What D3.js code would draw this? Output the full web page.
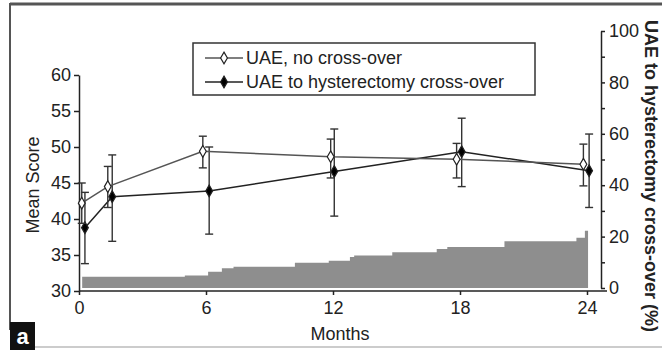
<!DOCTYPE html>
<html>
<head>
<meta charset="utf-8">
<script src="https://cdn.jsdelivr.net/npm/d3@7"></script>
<style>
  body { margin: 0; background: #fff; }
  text { font-family: Arial, "Liberation Sans", sans-serif; fill: #222; }
</style>
</head>
<body>
<svg id="chart" width="662" height="350"></svg>
<script>
// series (months, mean score, error bar ends)
var openMonths = [0.13, 1.36, 5.85, 11.89, 17.84, 23.83];
var openMean   = [42.2, 44.5, 49.4, 48.65, 48.3, 47.6];
var openHi     = [45.0, 47.3, 51.5, 51.1, 50.5, 50.4];
var openLo     = [39.4, 41.6, 47.1, 45.7, 45.7, 44.6];

var crossMonths = [0.28, 1.57, 6.15, 12.06, 18.08, 24.1];
var crossMean   = [38.8, 43.1, 43.9, 46.6, 49.35, 46.7];
var crossHi     = [43.7, 48.9, 50.0, 52.5, 54.0, 51.8];
var crossLo     = [33.8, 36.9, 37.9, 40.4, 44.5, 41.6];

// cumulative cross-over (%), step starts in months
var stepMonths = [0.15, 5.0, 6.1, 6.75, 7.3, 10.2, 11.8, 12.8, 13.0, 14.8, 16.9, 17.4, 20.1, 23.5, 23.9, 24.05];
var crossPct   = [4.4, 4.9, 6.3, 7.7, 8.3, 9.8, 10.6, 12.1, 12.6, 13.9, 15.2, 16.0, 18.2, 19.6, 22.3, 22.3];

var xTicks = [0, 6, 12, 18, 24];
var yTicks = [30, 35, 40, 45, 50, 55, 60];
var pctTicks = [0, 20, 40, 60, 80, 100];
var legendLabels = ['UAE, no cross-over', 'UAE to hysterectomy cross-over'];

var svg = d3.select('#chart');

var x = d3.scaleLinear().domain([0, 24]).range([79, 587]);
var y = d3.scaleLinear().domain([30, 60]).range([291, 75]);
var yPct = d3.scaleLinear().domain([0, 100]).range([288, 31]);

// frame
svg.append('line').attr('x1', 10).attr('x2', 662).attr('y1', 4).attr('y2', 4)
   .attr('stroke', '#555').attr('stroke-width', 3);
svg.append('line').attr('x1', 10).attr('x2', 10).attr('y1', 3).attr('y2', 330)
   .attr('stroke', '#555').attr('stroke-width', 2);
svg.append('line').attr('x1', 34).attr('x2', 662).attr('y1', 347).attr('y2', 347)
   .attr('stroke', '#ccc').attr('stroke-width', 2);

// cross-over area
var stepData = stepMonths.map(function(m, i){ return {m: m, v: crossPct[i]}; });
var area = d3.area()
    .curve(d3.curveStepAfter)
    .x(function(d){ return x(d.m); })
    .y0(yPct(0))
    .y1(function(d){ return yPct(d.v); });
svg.append('path').datum(stepData)
   .attr('d', area)
   .attr('fill', '#8e8e8e');

// axes
function styleAxis(g){
  g.select('.domain').attr('stroke', '#222').attr('stroke-width', 1.5);
  g.selectAll('.tick line').attr('stroke', '#222').attr('stroke-width', 1.5);
  g.selectAll('.tick text').style('font-size', '18px').attr('fill', '#222');
}

var gx = svg.append('g').attr('transform', 'translate(0,291)')
    .call(d3.axisBottom(x).tickValues(xTicks).tickSize(4).tickSizeOuter(0).tickPadding(6));
styleAxis(gx);
gx.select('.domain').attr('d', 'M' + x(0) + ',0H607');

var gy = svg.append('g').attr('transform', 'translate(79,0)')
    .call(d3.axisLeft(y).tickValues(yTicks).tickSize(5).tickSizeOuter(0).tickPadding(3));
styleAxis(gy);

var gr = svg.append('g').attr('transform', 'translate(601,0)')
    .call(d3.axisRight(yPct).tickValues(d3.range(0, 101, 10)).tickSize(4)
            .tickSizeOuter(0).tickPadding(4)
            .tickFormat(function(d){ return pctTicks.indexOf(d) >= 0 ? d : ''; }));
styleAxis(gr);

// axis titles
svg.append('text').attr('transform', 'translate(39,185) rotate(-90)')
   .attr('text-anchor', 'middle').style('font-size', '18px').text('Mean Score');
svg.append('text').attr('x', 340).attr('y', 340)
   .attr('text-anchor', 'middle').style('font-size', '18px').text('Months');
svg.append('text').attr('transform', 'translate(645,176) rotate(90)')
   .attr('text-anchor', 'middle').style('font-size', '18px').style('font-weight', 'bold')
   .text('UAE to hysterectomy cross-over (%)');

// series
var diamond = d3.symbol().type(d3.symbolDiamond).size(40);

function plotSeries(months, mean, hi, lo, lineColor, fill){
  var pts = months.map(function(m, i){ return {m: m, v: mean[i], hi: hi[i], lo: lo[i]}; });
  var g = svg.append('g');

  var bars = g.selectAll('g.bar').data(pts).enter().append('g')
      .attr('stroke', '#333').attr('stroke-width', 1.4);
  bars.append('line')
      .attr('x1', function(d){ return x(d.m); }).attr('x2', function(d){ return x(d.m); })
      .attr('y1', function(d){ return y(d.hi); }).attr('y2', function(d){ return y(d.lo); });
  bars.append('line')
      .attr('x1', function(d){ return x(d.m) - 4; }).attr('x2', function(d){ return x(d.m) + 4; })
      .attr('y1', function(d){ return y(d.hi); }).attr('y2', function(d){ return y(d.hi); });
  bars.append('line')
      .attr('x1', function(d){ return x(d.m) - 4; }).attr('x2', function(d){ return x(d.m) + 4; })
      .attr('y1', function(d){ return y(d.lo); }).attr('y2', function(d){ return y(d.lo); });

  g.append('path').datum(pts)
   .attr('d', d3.line().x(function(d){ return x(d.m); }).y(function(d){ return y(d.v); }))
   .attr('fill', 'none').attr('stroke', lineColor).attr('stroke-width', 1.5);

  g.selectAll('path.pt').data(pts).enter().append('path')
   .attr('class', 'pt')
   .attr('d', diamond)
   .attr('transform', function(d){ return 'translate(' + x(d.m) + ',' + y(d.v) + ')'; })
   .attr('fill', fill).attr('stroke', '#222').attr('stroke-width', 1.2);
}

plotSeries(crossMonths, crossMean, crossHi, crossLo, '#222', '#000');
plotSeries(openMonths, openMean, openHi, openLo, '#555', '#fff');

// legend
var legend = svg.append('g');
legend.append('rect').attr('x', 193).attr('y', 43).attr('width', 342).attr('height', 52)
   .attr('fill', '#fff').attr('stroke', '#333').attr('stroke-width', 1.5);
var legendFill = ['#fff', '#000'];
var legendLine = ['#555', '#222'];
legendLabels.forEach(function(lbl, i){
  var ly = 58 + i * 24;
  legend.append('line').attr('x1', 205).attr('x2', 243).attr('y1', ly).attr('y2', ly)
     .attr('stroke', legendLine[i]).attr('stroke-width', 1.5);
  legend.append('path').attr('d', diamond)
     .attr('transform', 'translate(224,' + ly + ')')
     .attr('fill', legendFill[i]).attr('stroke', '#222').attr('stroke-width', 1.2);
  legend.append('text').attr('x', 246).attr('y', ly + 6)
     .style('font-size', '18px').text(lbl);
});

// panel tag
svg.append('rect').attr('x', 10).attr('y', 322).attr('width', 25).attr('height', 28).attr('fill', '#111');
svg.append('text').attr('x', 22.5).attr('y', 344).attr('text-anchor', 'middle')
   .style('font-size', '22px').style('font-weight', 'bold').style('fill', '#fff').text('a');
</script>
</body>
</html>
